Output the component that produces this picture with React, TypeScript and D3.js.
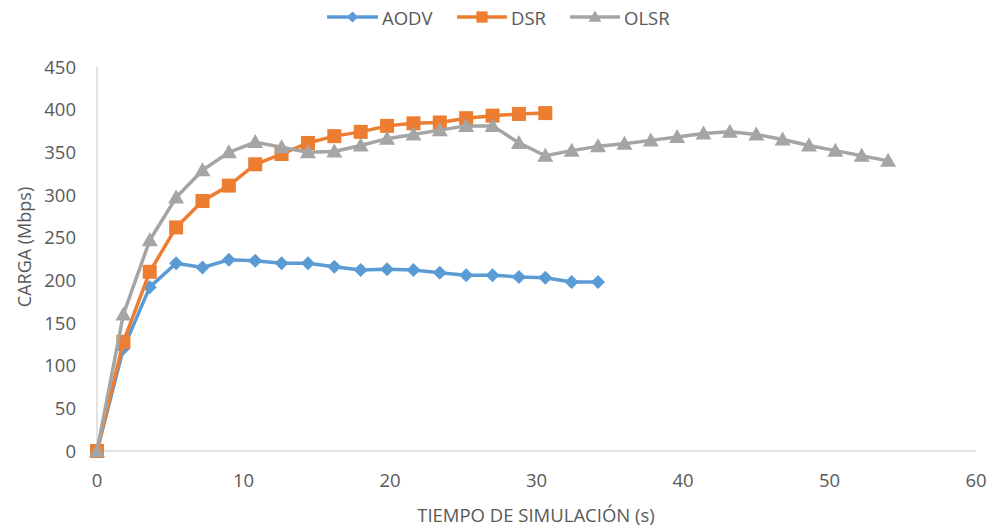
import React from "react";
import * as d3 from "d3";

const STEP = 1.8;
const aodv = [0, 120, 192, 220, 215, 224, 223, 220, 220, 216, 212, 213, 212, 209, 206, 206, 204, 203, 198, 198];
const dsr = [0, 128, 210, 262, 293, 311, 336, 348, 361, 369, 374, 381, 384, 385, 390, 393, 395, 396];
const olsr = [0, 160, 247, 297, 329, 350, 362, 356, 350, 351, 358, 366, 371, 376, 381, 381, 361, 346, 352, 357, 360, 364, 368, 372, 374, 371, 365, 358, 352, 346, 340];
const xTicks = [0, 10, 20, 30, 40, 50, 60];
const yTicks = [0, 50, 100, 150, 200, 250, 300, 350, 400, 450];

const series = [
  { name: "AODV", values: aodv, color: "#5B9BD5", shape: "diamond" },
  { name: "DSR", values: dsr, color: "#ED7D31", shape: "square" },
  { name: "OLSR", values: olsr, color: "#A5A5A5", shape: "triangle" },
];

const W = 991, H = 529;
const FONT = "'Open Sans', 'Liberation Sans', sans-serif";

function marker(shape: string, cx: number, cy: number, color: string, s = 1) {
  if (shape === "diamond") {
    const r = 7 * s;
    return <path d={`M${cx},${cy - r}L${cx + r},${cy}L${cx},${cy + r}L${cx - r},${cy}Z`} fill={color} />;
  }
  if (shape === "square") {
    const r = 7 * s;
    return <rect x={cx - r} y={cy - r} width={2 * r} height={2 * r} fill={color} />;
  }
  const r = 8 * s;
  return <path d={`M${cx},${cy - r}L${cx + r},${cy + r * 0.75}L${cx - r},${cy + r * 0.75}Z`} fill={color} />;
}

export default function App() {
  const x = d3.scaleLinear().domain([0, 60]).range([97, 976]);
  const y = d3.scaleLinear().domain([0, 450]).range([451, 67]);
  const line = d3.line<number>().x((_, i) => x(i * STEP)).y((d) => y(d));
  const legend = [
    { x0: 327, tx: 382 },
    { x0: 457, tx: 511 },
    { x0: 570, tx: 624 },
  ];
  return (
    <svg width={W} height={H} style={{ position: "absolute", left: 0, top: 0, background: "#fff" }}>
      <line x1={x(0)} x2={x(60)} y1={y(0)} y2={y(0)} stroke="#D9D9D9" strokeWidth={1.5} />
      <line x1={x(0)} x2={x(0)} y1={y(0)} y2={y(450)} stroke="#D9D9D9" strokeWidth={1.5} />
      {yTicks.map((t) => (
        <text key={t} x={76} y={y(t) + 6.5} textAnchor="end" fontFamily={FONT} fontSize={18.5} fill="#595959">{t}</text>
      ))}
      {xTicks.map((t) => (
        <text key={t} x={x(t)} y={487} textAnchor="middle" fontFamily={FONT} fontSize={18.5} fill="#595959">{t}</text>
      ))}
      <text x={536} y={522} textAnchor="middle" fontFamily={FONT} fontSize={18.5} fill="#595959">TIEMPO DE SIMULACIÓN (s)</text>
      <text transform={`translate(31,247) rotate(-90)`} textAnchor="middle" fontFamily={FONT} fontSize={18} fill="#595959">CARGA (Mbps)</text>
      {series.map((s) => (
        <g key={s.name}>
          <path d={line(s.values) || ""} fill="none" stroke={s.color} strokeWidth={3.5} strokeLinejoin="round" />
          {s.values.map((v, i) => (
            <g key={i}>{marker(s.shape, x(i * STEP), y(v), s.color)}</g>
          ))}
        </g>
      ))}
      {series.map((s, i) => (
        <g key={s.name}>
          <line x1={legend[i].x0} x2={legend[i].tx - 4} y1={17} y2={17} stroke={s.color} strokeWidth={3.5} />
          {marker(s.shape, (legend[i].x0 + legend[i].tx - 4) / 2, 17, s.color, 0.8)}
          <text x={legend[i].tx} y={24.5} fontFamily={FONT} fontSize={18.5} fill="#595959">{s.name}</text>
        </g>
      ))}
    </svg>
  );
}
